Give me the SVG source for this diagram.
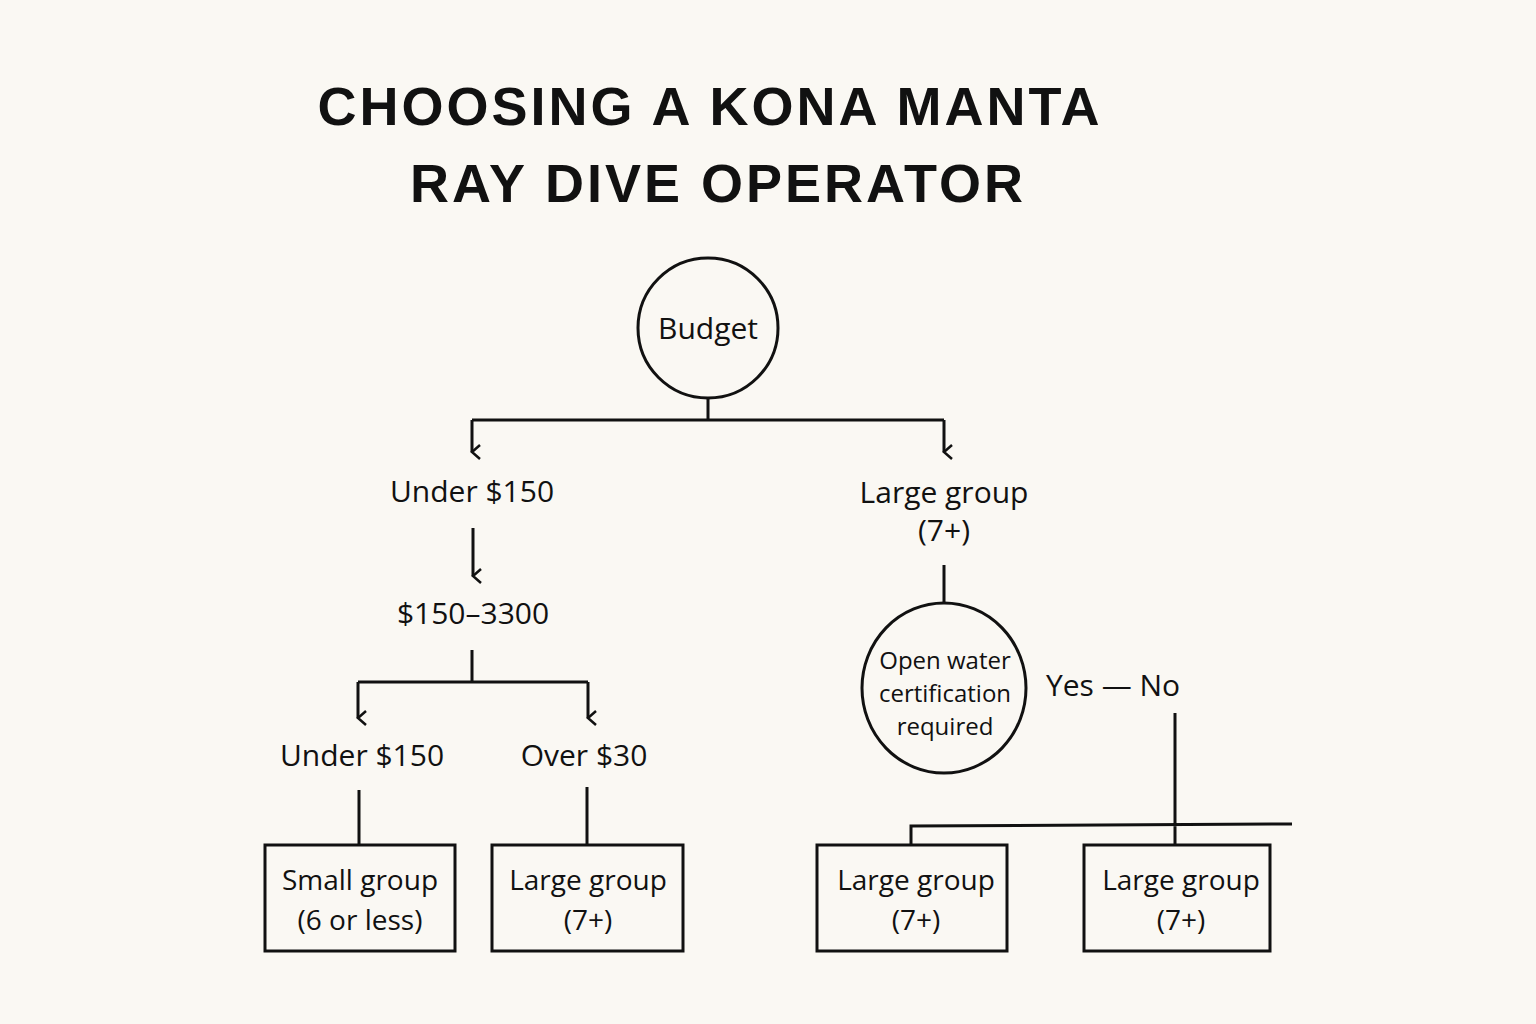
<svg xmlns="http://www.w3.org/2000/svg" width="1536" height="1024" viewBox="0 0 1536 1024">
<style>
.t{font-family:"Open Sans","Liberation Sans",sans-serif;fill:#111;text-anchor:middle}
.h{font-family:"Liberation Sans",sans-serif;font-weight:bold;font-size:54px;letter-spacing:3px;fill:#111;text-anchor:middle}
.l{fill:none;stroke:#111;stroke-width:3}
.n{fill:none;stroke:#111;stroke-width:3}
</style>
<defs><marker id="a" viewBox="0 0 16 16" refX="8" refY="14" markerWidth="16" markerHeight="16" markerUnits="userSpaceOnUse" orient="auto-start-reverse"><path d="M1,6 L8,14 L15,6" fill="none" stroke="#111" stroke-width="2.5"/></marker></defs>
<rect width="1536" height="1024" fill="#faf8f3"/>
<text class="h" x="710" y="125">CHOOSING A KONA MANTA</text>
<text class="h" x="718" y="202">RAY DIVE OPERATOR</text>
<g id="budget"><circle class="n" cx="708" cy="328" r="70"/><text class="t" x="708" y="339" font-size="30">Budget</text></g>
<g id="under150"><text class="t" x="472" y="502" font-size="30">Under $150</text></g>
<g id="largeTop"><text class="t" x="944" y="503" font-size="30">Large group</text><text class="t" x="944" y="541" font-size="30">(7+)</text></g>
<g id="range"><text class="t" x="473" y="624" font-size="30">$150–3300</text></g>
<g id="cert"><ellipse class="n" cx="944" cy="688" rx="82" ry="85"/><text class="t" x="945" y="669" font-size="24">Open water</text><text class="t" x="945" y="702" font-size="24">certification</text><text class="t" x="945" y="735" font-size="24">required</text></g>
<g id="yesno"><text class="t" x="1113" y="696" font-size="30">Yes — No</text></g>
<g id="under150b"><text class="t" x="362" y="766" font-size="30">Under $150</text></g>
<g id="over30"><text class="t" x="584" y="766" font-size="30">Over $30</text></g>
<g id="small"><rect class="n" x="265" y="845" width="190" height="106"/><text class="t" x="360" y="890" font-size="28">Small group</text><text class="t" x="360" y="930" font-size="28">(6 or less)</text></g>
<g id="large1"><rect class="n" x="492" y="845" width="191" height="106"/><text class="t" x="588" y="890" font-size="28">Large group</text><text class="t" x="588" y="930" font-size="28">(7+)</text></g>
<g id="large2"><rect class="n" x="817" y="845" width="190" height="106"/><text class="t" x="916" y="890" font-size="28">Large group</text><text class="t" x="916" y="930" font-size="28">(7+)</text></g>
<g id="large3"><rect class="n" x="1084" y="845" width="186" height="106"/><text class="t" x="1181" y="890" font-size="28">Large group</text><text class="t" x="1181" y="930" font-size="28">(7+)</text></g>
<g id="connectors">
<path class="l" d="M708,398 V420"/>
<path class="l" d="M472,420 H944" />
<path class="l" d="M472,420 V452" marker-end="url(#a)"/>
<path class="l" d="M944,420 V452" marker-end="url(#a)"/>
<path class="l" d="M473,528 V576" marker-end="url(#a)"/>
<path class="l" d="M472,650 V682 M358,682 H588"/>
<path class="l" d="M358,682 V718" marker-end="url(#a)"/>
<path class="l" d="M588,682 V718" marker-end="url(#a)"/>
<path class="l" d="M359,790 V845 M587,787 V845"/>
<path class="l" d="M944,565 V603"/>
<path class="l" d="M1175,713 V845 M911,845 V826 L1292,824"/>
</g>
</svg>
